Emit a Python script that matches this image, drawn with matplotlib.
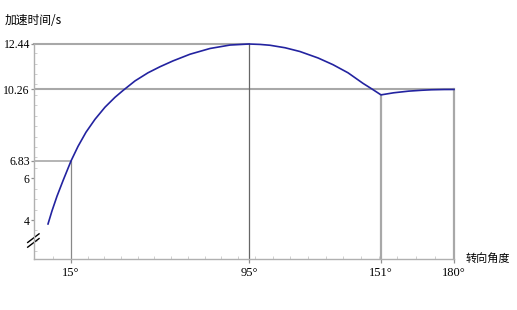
import numpy as np
import matplotlib
matplotlib.use("Agg")
import matplotlib.pyplot as plt
from matplotlib.ticker import MultipleLocator, FixedLocator

# curve (turning angle in degrees, acceleration time in s)
angle = [5.68, 7.3, 9.32, 11.76, 15, 18.15, 21.74, 25.79, 30.28, 34.78, 38.37,
         43.77, 49.61, 55.0, 60.85, 68.49, 77.48, 86.47, 95,
         99.67, 103.9, 110.3, 116.6, 124.3, 130.6, 137.0, 143.4, 147.2, 151,
         156, 162, 167, 171, 176, 180]
accel_time = [3.81, 4.44, 5.14, 5.885, 6.83, 7.53, 8.21, 8.83, 9.41, 9.885, 10.21,
              10.67, 11.06, 11.35, 11.63, 11.95, 12.225, 12.39, 12.44,
              12.42, 12.38, 12.26, 12.08, 11.77, 11.45, 11.06, 10.55, 10.28, 10.0,
              10.10, 10.18, 10.22, 10.245, 10.258, 10.26]

x_ticks = [15, 95, 151, 180]
x_labels = ["15°", "95°", "151°", "180°"]
y_ticks = [4, 6, 6.83, 10.26, 12.44]
y_labels = ["4", "6", "6.83", "10.26", "12.44"]

# the original axis is not drawn to scale: piecewise placement of the ticks
knot_deg = [0, 15, 95, 151, 180]
knot_pos = [0, 37, 215, 347, 420]

def fwd(x):
    return np.interp(x, knot_deg, knot_pos)

def inv(p):
    return np.interp(p, knot_pos, knot_deg)

cjk = ["Noto Sans CJK SC", "DejaVu Sans"]
num_font = "Liberation Serif"
grey = "#a8a8a8"

fig = plt.figure(figsize=(5.17, 3.10), dpi=100)
ax = fig.add_axes([34 / 517, 51 / 310, 420 / 517, 215 / 310])
ax.set_xscale("function", functions=(fwd, inv))
ax.set_xlim(0, 180)
ax.set_ylim(2.13, 12.44)

# guide lines
ax.plot([0, 15], [6.83, 6.83], color=grey, lw=1.2, zorder=1)
ax.plot([0, 95], [12.44, 12.44], color=grey, lw=1.5, zorder=1, clip_on=False)
ax.plot([0, 180], [10.26, 10.26], color=grey, lw=1.5, zorder=1)
ax.plot([15, 15], [2.13, 6.83], color="#888888", lw=0.9, zorder=1)
ax.plot([95, 95], [2.13, 12.44], color="#666666", lw=0.9, zorder=1, clip_on=False)
ax.plot([151, 151], [2.13, 10.0], color=grey, lw=1.6, zorder=1)
ax.plot([180, 180], [2.13, 10.26], color=grey, lw=1.6, zorder=1, clip_on=False)

ax.plot(angle, accel_time, color="#2323a0", lw=1.2, zorder=3, clip_on=False)

for s in ["top", "right"]:
    ax.spines[s].set_visible(False)
for s in ["left", "bottom"]:
    ax.spines[s].set_color("#b0b0b0")
    ax.spines[s].set_linewidth(1.0)

ax.xaxis.set_major_locator(FixedLocator(x_ticks))
ax.set_xticklabels(x_labels, fontfamily=num_font, fontsize=9)
ax.yaxis.set_major_locator(FixedLocator(y_ticks))
ax.set_yticklabels(y_labels, fontfamily=num_font, fontsize=8.5)
ax.xaxis.set_minor_locator(MultipleLocator(7.5))
ax.yaxis.set_minor_locator(MultipleLocator(0.5))
ax.tick_params(axis="x", which="major", direction="out", length=3, width=0.9,
               color="#909090", pad=3)
ax.tick_params(axis="y", which="major", direction="out", length=2, width=0.9,
               color="#909090", pad=1)
ax.tick_params(which="minor", direction="in", length=2, width=0.6,
               color="#c8c8c8")

# axis break marks on the y axis
for dy in (0, 0.022):
    ax.plot([-0.015, 0.012], [0.055 + dy, 0.095 + dy], transform=ax.transAxes,
            color="black", lw=1.0, clip_on=False)

fig.text(5 / 517, 1 - 20 / 310, "加速时间/s", family=cjk, fontsize=8.5,
         va="center", ha="left")
fig.text(466 / 517, 1 - 258 / 310, "转向角度", family=cjk, fontsize=8,
         va="center", ha="left")

fig.savefig("out.png", dpi=100)
